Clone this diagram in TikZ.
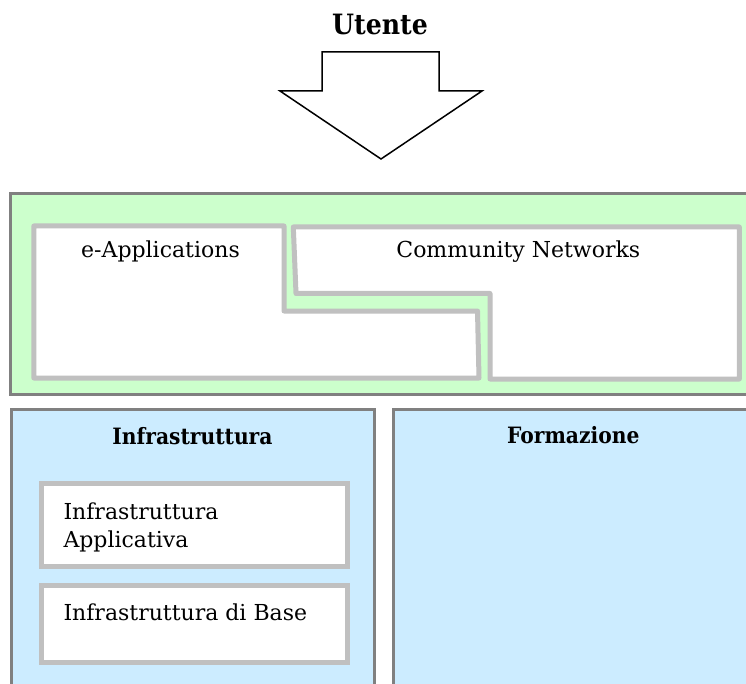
\documentclass[tikz,border=0pt]{standalone}
\usepackage{fontspec}
\setmainfont{DejaVu Serif}
\newfontfamily\headfont{DejaVu Serif Condensed}
\begin{document}
\begin{tikzpicture}[x=1pt,y=-1pt,
  panelframe/.style={draw=frameGray,line width=3pt},
  modulebox/.style={draw=boxGray,fill=white,line width=5pt,line join=round},
  headlabel/.style={font=\headfont\bfseries\fontsize{22.5}{26}\selectfont,inner sep=0pt,anchor=base},
  bodylabel/.style={font=\fontsize{22}{28}\selectfont,inner sep=0pt},
]
\definecolor{frameGray}{HTML}{808080}
\definecolor{boxGray}{HTML}{C0C0C0}
\definecolor{greenBand}{HTML}{CCFFCC}
\definecolor{blueBand}{HTML}{CCECFF}

\useasboundingbox (0,0) rectangle (746,684);
\clip (0,0) rectangle (746,684);

% user on top with the big downward arrow
\node[headlabel,font=\headfont\bfseries\fontsize{28}{32}\selectfont] (utente) at (380,35) {Utente};
\draw[line width=1.5pt,fill=white,line join=miter]
  (322,52) -- (439,52) -- (439,91) -- (482,91) -- (381,159) -- (280,91) -- (322,91) -- cycle;

% application layer (green band)
\draw[panelframe,fill=greenBand] (10.7,193.5) rectangle (760,394);
\draw[modulebox] (33.8,226) -- (284,226) -- (284,311) -- (477.5,311) -- (479,378) -- (33.8,378) -- cycle;
\draw[modulebox] (293.3,227) -- (739.3,227) -- (739.3,379) -- (490,379) -- (490,293.5) -- (296,293.5) -- cycle;
\node[bodylabel,anchor=base] (eapp) at (160.5,257.3) {e-Applications};
\node[bodylabel,anchor=base] (community) at (518.3,257.3) {Community Networks};

% infrastructure and training columns (blue)
\draw[panelframe,fill=blueBand] (11.5,409.5) rectangle (374,700);
\draw[panelframe,fill=blueBand] (393.3,409.5) rectangle (760,700);
\node[headlabel] (infra) at (192.5,444.3) {Infrastruttura};
\node[headlabel] (formazione) at (573.3,443.3) {Formazione};

\draw[modulebox,line join=miter] (41.7,483) rectangle (347,566.8);
\draw[modulebox,line join=miter] (41.7,585) rectangle (347,662.5);
\node[bodylabel,anchor=base west] (infraapp) at (63.3,519.3) {Infrastruttura};
\node[bodylabel,anchor=base west] (infraapp2) at (63.3,547.3) {Applicativa};
\node[bodylabel,anchor=base west] (infrabase) at (63.3,620.7) {Infrastruttura di Base};
\end{tikzpicture}
\end{document}
